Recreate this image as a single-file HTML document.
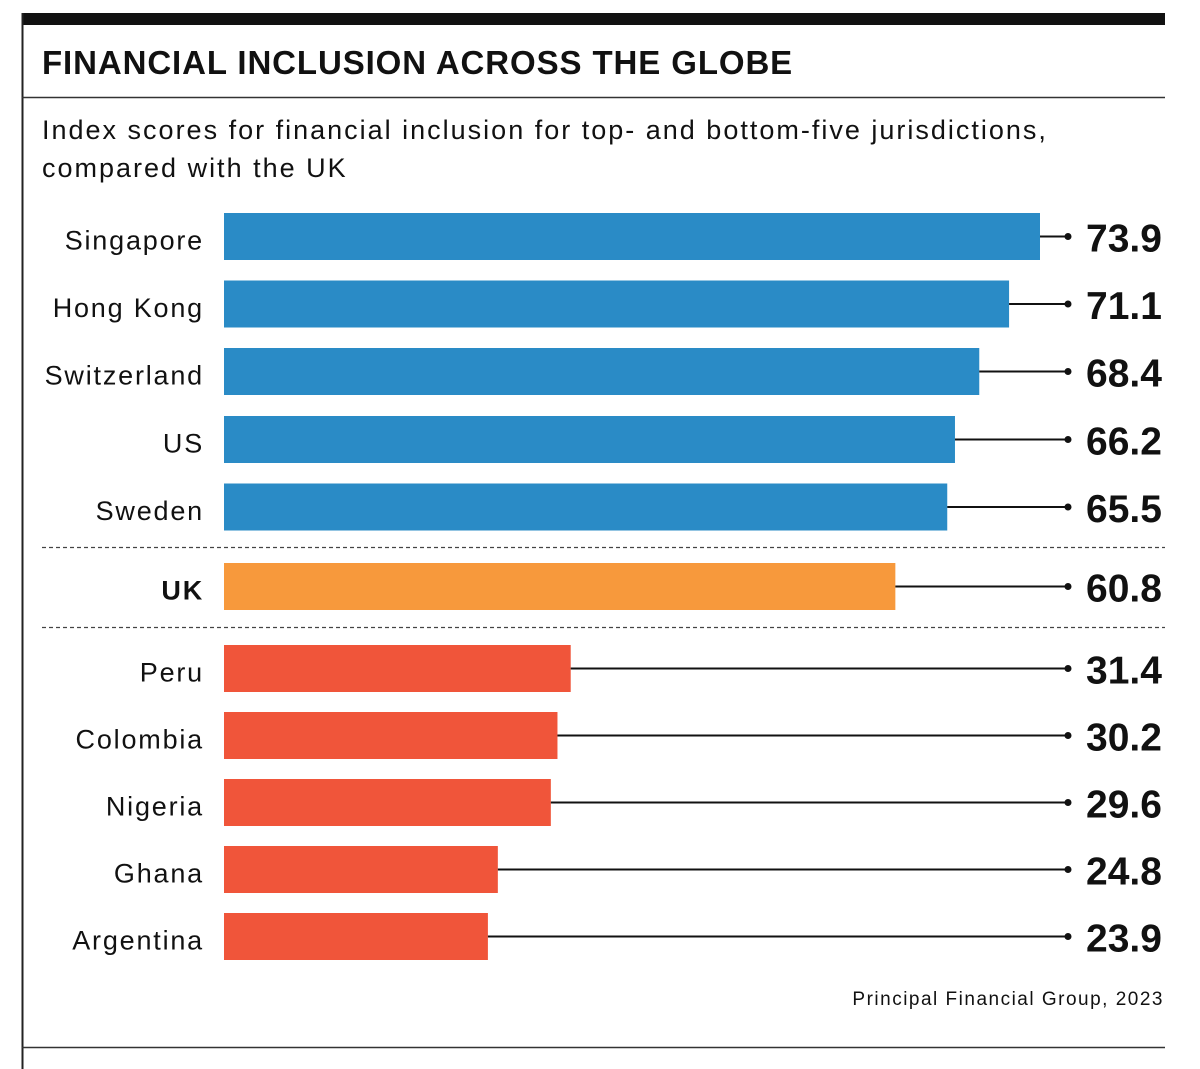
<!DOCTYPE html>
<html><head><meta charset="utf-8"><style>
body{margin:0;background:#fff;}
svg{display:block;font-family:"Liberation Sans",sans-serif;}
</style></head><body>
<svg id="chart" width="1200" height="1069">
<rect x="22" y="13" width="1143" height="12" fill="#111"/>
<line x1="22.5" y1="13" x2="22.5" y2="1069" stroke="#222" stroke-width="2"/>
<text x="42" y="74" font-size="33" font-weight="bold" letter-spacing="0.9" fill="#111">FINANCIAL INCLUSION ACROSS THE GLOBE</text>
<line x1="22" y1="97.5" x2="1165" y2="97.5" stroke="#333" stroke-width="1.5"/>
<text x="42" y="139" font-size="27" fill="#111" letter-spacing="2">Index scores for financial inclusion for top- and bottom-five jurisdictions,</text>
<text x="42" y="177" font-size="27" fill="#111" letter-spacing="2">compared with the UK</text>
<g id="bars"></g>
<line x1="42" y1="547.5" x2="1165" y2="547.5" stroke="#444" stroke-width="1.2" stroke-dasharray="4,3"/>
<line x1="42" y1="627.5" x2="1165" y2="627.5" stroke="#444" stroke-width="1.2" stroke-dasharray="4,3"/>
<text x="1164" y="1005" font-size="19" text-anchor="end" fill="#111" letter-spacing="1.5">Principal Financial Group, 2023</text>
<line x1="22" y1="1047.5" x2="1165" y2="1047.5" stroke="#333" stroke-width="1.5"/>
</svg>
<script>
const categories=["Singapore","Hong Kong","Switzerland","US","Sweden","UK","Peru","Colombia","Nigeria","Ghana","Argentina"];
const values=[73.9,71.1,68.4,66.2,65.5,60.8,31.4,30.2,29.6,24.8,23.9];
const groups=["top","top","top","top","top","uk","bottom","bottom","bottom","bottom","bottom"];
const colors={top:"#2a8bc6",uk:"#f7993c",bottom:"#f0553a"};
const rowTops=[213,280.5,348,416,483.5,563,645,712,779,846,913];
const x0=224, pxPerUnit=816/73.9, barH=47;
const xScale=v=>x0+v*pxPerUnit;
const ns="http://www.w3.org/2000/svg";
const g=document.getElementById("bars");
function mk(tag,attrs){const e=document.createElementNS(ns,tag);for(const k in attrs)e.setAttribute(k,attrs[k]);g.appendChild(e);return e;}
categories.forEach((c,i)=>{
  const y=rowTops[i], cy=y+barH/2, v=values[i], xe=xScale(v);
  const r=mk("rect",{x:x0,y:y,width:xe-x0,height:barH,fill:colors[groups[i]]});
  
  
  const l=mk("line",{x1:xe,y1:cy,x2:1068,y2:cy,stroke:"#111","stroke-width":2});
  
  
  const d=mk("circle",{cx:1068,cy:cy,r:3.5,fill:"#111"});
  
  
  const t=mk("text",{x:204,y:cy+13,"font-size":27,"text-anchor":"end",fill:"#111","letter-spacing":"1.8","font-weight":groups[i]==="uk"?"bold":"normal"});
  t.textContent=c;
  
  
  const vt=mk("text",{x:1124,y:cy+15,"font-size":39,"text-anchor":"middle","font-weight":"bold",fill:"#111"});
  vt.textContent=v.toFixed(1);
  
  
});
</script>
</body></html>
